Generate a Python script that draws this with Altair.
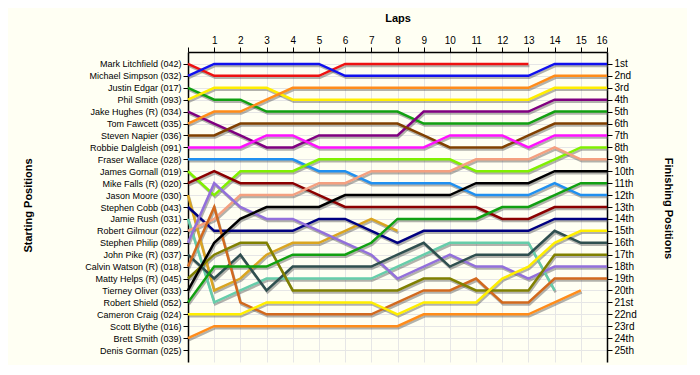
import json
import altair as alt
import pandas as pd

# Starting grid (left axis labels, in starting order 1..25)
drivers = [
    "Mark Litchfield (042)", "Michael Simpson (032)", "Justin Edgar (017)",
    "Phil Smith (093)", "Jake Hughes (R) (034)", "Tom Fawcett (035)",
    "Steven Napier (036)", "Robbie Dalgleish (091)", "Fraser Wallace (028)",
    "James Gornall (019)", "Mike Falls (R) (020)", "Jason Moore (030)",
    "Stephen Cobb (043)", "Jamie Rush (031)", "Robert Gilmour (022)",
    "Stephen Philip (089)", "John Pike (R) (037)", "Calvin Watson (R) (018)",
    "Matty Helps (R) (045)", "Tierney Oliver (033)", "Robert Shield (052)",
    "Cameron Craig (024)", "Scott Blythe (016)", "Brett Smith (039)",
    "Denis Gorman (025)",
]

finish_labels = [
    "1st", "2nd", "3rd", "4th", "5th", "6th", "7th", "8th", "9th", "10th",
    "11th", "12th", "13th", "14th", "15th", "16th", "17th", "18th", "19th",
    "20th", "21st", "22nd", "23rd", "24th", "25th",
]

lap_ticks = list(range(0, 17))

# Position per lap (index 0 = start), one array per driver
litchfield = [1, 2, 2, 2, 2, 2, 1, 1, 1, 1, 1, 1, 1, 1]
simpson = [2, 1, 1, 1, 1, 1, 2, 2, 2, 2, 2, 2, 2, 2, 1, 1, 1]
edgar = [3, 4, 4, 5, 5, 5, 5, 5, 5, 6, 6, 6, 6, 6, 5, 5, 5]
phil_smith = [4, 3, 3, 3, 4, 4, 4, 4, 4, 4, 4, 4, 4, 4, 3, 3, 3]
hughes = [5, 6, 7, 8, 8, 7, 7, 7, 7, 5, 5, 5, 5, 5, 4, 4, 4]
fawcett = [6, 5, 5, 4, 3, 3, 3, 3, 3, 3, 3, 3, 3, 3, 2, 2, 2]
napier = [7, 7, 6, 6, 6, 6, 6, 6, 6, 7, 8, 8, 8, 7, 6, 6, 6]
dalgleish = [8, 8, 8, 7, 7, 8, 8, 8, 8, 8, 7, 7, 7, 8, 7, 7, 7]
wallace = [9, 9, 9, 9, 9, 10, 10, 11, 11, 11, 11, 12, 12, 12, 11, 12, 12]
gornall = [10, 12, 10, 10, 10, 9, 9, 9, 9, 9, 9, 10, 10, 10, 9, 8, 8]
falls = [11, 10, 11, 11, 11, 12, 13, 13, 13, 13, 13, 13, 14, 14, 13, 13, 13]
moore = [12, 20, 19, 17, 16, 16, 15, 14, 15]
cobb = [13, 15, 15, 15, 15, 14, 14, 15, 16, 15, 15, 15, 15, 15, 14, 14, 14]
rush = [14, 21, 20, 19, 19, 19, 19, 19, 18, 17, 16, 16, 16, 16, 20]
gilmour = [15, 14, 12, 12, 12, 11, 11, 10, 10, 10, 10, 9, 9, 9, 8, 9, 9]
philip = [16, 11, 13, 14, 14, 15, 16, 17, 19, 18, 17, 18, 18, 19, 18, 18, 18]
pike = [17, 19, 17, 20, 18, 18, 18, 18, 17, 16, 18, 17, 17, 17, 15, 16, 16]
watson = [18, 13, 21, 22, 22, 22, 22, 22, 21, 20, 20, 19, 21, 21, 19, 19, 19]
helps = [19, 17, 16, 16, 20, 20, 20, 20, 20, 19, 19, 20, 20, 20, 17, 17, 17]
oliver = [20, 16, 14, 13, 13, 13, 12, 12, 12, 12, 12, 11, 11, 11, 10, 10, 10]
shield = [21, 18, 18, 18, 17, 17, 17, 16, 14, 14, 14, 14, 13, 13, 12, 11, 11]
craig = [22, 22, 22, 21, 21, 21, 21, 21, 22, 21, 21, 21, 19, 18, 16, 15, 15]
brett_smith = [24, 23, 23, 23, 23, 23, 23, 23, 23, 22, 22, 22, 22, 22, 21, 20]

series = [
    (drivers[0], litchfield, "#EE1111"),
    (drivers[1], simpson, "#1111EE"),
    (drivers[2], edgar, "#11A011"),
    (drivers[3], phil_smith, "#FFEE00"),
    (drivers[4], hughes, "#800080"),
    (drivers[5], fawcett, "#FF8C1A"),
    (drivers[6], napier, "#804000"),
    (drivers[7], dalgleish, "#FF11FF"),
    (drivers[8], wallace, "#2090F0"),
    (drivers[9], gornall, "#80F000"),
    (drivers[10], falls, "#8B0000"),
    (drivers[11], moore, "#DAA520"),
    (drivers[12], cobb, "#000080"),
    (drivers[13], rush, "#66CDAA"),
    (drivers[14], gilmour, "#F4A080"),
    (drivers[15], philip, "#9370DB"),
    (drivers[16], pike, "#2F4F4F"),
    (drivers[17], watson, "#D2691E"),
    (drivers[18], helps, "#808000"),
    (drivers[19], oliver, "#000000"),
    (drivers[20], shield, "#11A011"),
    (drivers[21], craig, "#FFEE00"),
    (drivers[23], brett_smith, "#FF8C1A"),
]

rows = []
for name, positions, _ in series:
    for lap, p in enumerate(positions):
        rows.append({"driver": name, "lap": lap, "pos": p})
df = pd.DataFrame(rows)

series_names = [s[0] for s in series]
series_colors = [s[2] for s in series]

FONT = "Liberation Sans"

left_expr = json.dumps([""] + drivers) + "[datum.value]"
right_expr = json.dumps([""] + finish_labels) + "[datum.value]"

x_enc = alt.X(
    "lap:Q",
    scale=alt.Scale(domain=[0, 16], nice=False, zero=False),
    axis=alt.Axis(
        orient="top", values=lap_ticks, title="Laps",
        labelExpr="datum.value == 0 ? '' : datum.label",
        grid=True, gridColor="#E6E6E6", gridWidth=1,
        domainColor="#000000", domainWidth=1.5, tickColor="#000000",
        tickSize=5, labelPadding=2, labelFont=FONT, labelFontSize=10,
        labelColor="#000000", titleFont=FONT, titleFontSize=11,
        titleFontWeight="bold", titleColor="#000000",
        titleY=-34, titleBaseline="middle",
    ),
)

y_scale = alt.Scale(domain=[0, 26], reverse=True, nice=False, zero=False)

left_axis = alt.Axis(
    orient="left", values=list(range(1, 26)), labelExpr=left_expr,
    title="Starting Positions", grid=True, gridColor="#E6E6E6", gridWidth=1,
    domainColor="#000000", domainWidth=1.5, tickColor="#000000", tickSize=5,
    labelPadding=2, labelFont=FONT, labelFontSize=9, labelColor="#000000",
    titleFont=FONT, titleFontSize=11, titleFontWeight="bold",
    titleColor="#000000", titleX=-160, titleY=153, titleAngle=270,
    titleBaseline="middle", titleAlign="center",
)

right_axis = alt.Axis(
    orient="right", values=list(range(1, 26)), labelExpr=right_expr,
    title="Finishing Positions", grid=False,
    domainColor="#000000", domainWidth=1.5, tickColor="#000000", tickSize=5,
    labelPadding=2, labelFont=FONT, labelFontSize=10, labelColor="#000000",
    titleFont=FONT, titleFontSize=11, titleFontWeight="bold",
    titleColor="#000000", titleX=60, titleY=156, titleAngle=90,
    titleBaseline="middle", titleAlign="center",
)

base = alt.Chart(df)

shadow = base.mark_line(
    strokeWidth=2.5, color="#555555", opacity=0.45, xOffset=1, yOffset=2
).encode(
    x=x_enc,
    y=alt.Y("pos:Q", scale=y_scale, axis=None),
    detail="driver:N",
)

lines = base.mark_line(strokeWidth=2.5).encode(
    x=x_enc,
    y=alt.Y("pos:Q", scale=y_scale, axis=left_axis),
    color=alt.Color(
        "driver:N",
        scale=alt.Scale(domain=series_names, range=series_colors),
        legend=None,
    ),
    detail="driver:N",
)

right = base.mark_line(opacity=0).encode(
    x=x_enc,
    y=alt.Y("pos:Q", scale=y_scale, axis=right_axis),
    detail="driver:N",
)

chart = (
    alt.layer(shadow, lines, right)
    .resolve_axis(y="independent")
    .properties(
        width=419, height=310,
        autosize=alt.AutoSizeParams(type="none"),
        padding={"left": 180, "top": 44, "right": 80, "bottom": 3},
        background="#FFFFF3",
    )
    .configure_view(stroke=None, fill="#FFFFF3")
)

chart.save("out.html", embed_options={"renderer": "svg", "actions": False})
